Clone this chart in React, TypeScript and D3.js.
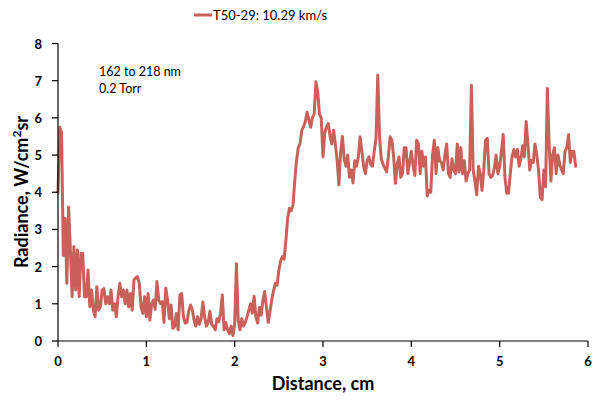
import React from "react";
import * as d3 from "d3";

// Radiance profile sampled every 0.02 cm, starting at 0 cm
const STEP_CM = 0.02;
const radiance: number[] = [
  4.0, 5.75, 5.6, 2.3, 3.3, 1.55, 3.6, 2.45, 1.19, 2.54,
  1.37, 2.45, 1.19, 2.36, 2.36, 1.19, 1.19, 1.91, 0.92, 1.37,
  0.83, 0.65, 1.46, 0.83, 0.92, 1.37, 1.41, 1.0, 1.19, 1.0,
  1.37, 0.83, 1.0, 0.65, 1.2, 1.55, 1.19, 1.37, 1.0, 1.37,
  0.92, 1.28, 0.83, 1.64, 1.7, 1.73, 1.55, 0.92, 0.74, 1.19,
  0.65, 1.28, 0.56, 1.0, 1.1, 0.85, 1.6, 1.1, 1.01, 1.06,
  0.5, 1.42, 1.1, 0.6, 0.97, 0.34, 0.39, 0.74, 0.3, 1.24,
  1.28, 0.65, 0.48, 0.5, 0.8, 0.97, 0.85, 0.56, 0.4, 0.65,
  0.45, 0.6, 1.05, 0.65, 0.4, 0.5, 0.8, 0.45, 0.39, 0.3,
  0.6, 0.52, 0.74, 1.24, 0.3, 0.5, 0.3, 0.2, 0.4, 0.15,
  0.45, 2.08, 0.55, 0.3, 0.6, 0.4, 0.5, 0.65, 0.83, 1.0,
  0.75, 1.2, 0.65, 0.48, 0.9, 0.7, 1.1, 1.33, 0.9, 0.5,
  0.8, 1.1, 1.35, 1.55, 1.5, 1.9, 2.15, 2.27, 2.2, 2.7,
  3.3, 3.57, 3.5, 3.65, 4.3, 4.85, 5.2, 5.3, 5.67, 5.76,
  5.9, 6.15, 5.95, 5.75, 6.0, 6.1, 6.97, 6.7, 6.1, 6.0,
  4.95, 5.6, 5.76, 5.85, 5.5, 5.3, 5.67, 5.3, 4.85, 4.2,
  5.1, 5.5, 4.9, 4.7, 5.0, 4.4, 4.6, 4.25, 4.85, 4.7,
  4.95, 5.49, 5.1, 4.7, 4.5, 4.85, 4.95, 4.75, 4.7, 5.1,
  5.45, 7.15, 5.5, 4.9, 4.75, 4.65, 4.55, 4.95, 5.49, 5.4,
  4.95, 4.24, 4.75, 4.95, 4.4, 4.5, 5.2, 5.2, 4.5, 4.8,
  5.1, 4.7, 4.45, 5.4, 5.3, 4.5, 5.1, 4.7, 4.95, 3.9,
  4.05, 4.0, 5.0, 5.4, 4.5, 5.2, 4.85, 4.8, 4.6, 5.0,
  5.3, 4.5, 4.4, 4.9, 4.6, 4.5, 5.3, 4.55, 5.2, 4.5,
  4.85, 4.3, 4.5, 4.6, 6.88, 4.6, 4.3, 3.93, 4.7, 4.5,
  4.05, 4.6, 5.4, 5.45, 4.5, 4.4, 4.45, 4.65, 5.0, 4.5,
  4.7, 5.1, 5.55, 4.4, 3.97, 3.97, 4.5, 4.95, 5.15, 4.95,
  5.15, 4.7, 4.9, 5.25, 4.95, 5.9, 5.3, 4.6, 4.85, 4.8,
  5.3, 5.0, 4.6, 3.86, 3.8, 4.6, 4.15, 6.79, 5.3, 4.3,
  5.0, 5.2, 4.5, 5.0, 4.75, 4.6, 4.5, 5.1, 5.2, 5.55,
  4.8, 5.1, 5.1, 4.7,
];

const xTicks = [0, 1, 2, 3, 4, 5, 6];
const yTicks = [0, 1, 2, 3, 4, 5, 6, 7, 8];
const seriesName = "T50-29: 10.29 km/s";
const noteLines = ["162 to 218 nm", "0.2 Torr"];

const W = 605;
const H = 402;
const COLOR = "#C9605A";
const FONT = "Lato, 'Open Sans', sans-serif";

export default function App() {
  const x = d3.scaleLinear().domain([0, 6]).range([58, 588]);
  const y = d3.scaleLinear().domain([0, 8]).range([341, 43.5]);

  const pts: [number, number][] = radiance.map((v, i) => [i * STEP_CM, v]);
  const line = d3
    .line<[number, number]>()
    .x((d) => x(d[0]))
    .y((d) => y(d[1]));

  return (
    <svg
      width={W}
      height={H}
      style={{ position: "absolute", left: 0, top: 0, background: "#fff" }}
      fontFamily={FONT}
    >
      {/* legend */}
      <line x1={194} x2={212} y1={15} y2={15} stroke={COLOR} strokeWidth={3} />
      <text x={213} y={20} fontSize={13} fill="#000">
        {seriesName}
      </text>

      {/* note */}
      {noteLines.map((t, i) => (
        <text key={t} x={99} y={76 + i * 17} fontSize={12.5} fill="#000">
          {t}
        </text>
      ))}

      {/* data line */}
      <path
        d={line(pts) || ""}
        fill="none"
        stroke={COLOR}
        strokeWidth={3}
        strokeLinejoin="round"
        strokeLinecap="round"
      />

      {/* y axis */}
      <line x1={x(0)} x2={x(0)} y1={y(8)} y2={y(0)} stroke="#000" strokeWidth={1.2} />
      {yTicks.map((t) => (
        <g key={"y" + t}>
          <line x1={x(0) - 6} x2={x(0)} y1={y(t)} y2={y(t)} stroke="#000" strokeWidth={1.2} />
          <text
            x={42}
            y={y(t)}
            textAnchor="end"
            dominantBaseline="central"
            fontSize={13}
            fontWeight="bold"
          >
            {t}
          </text>
        </g>
      ))}

      {/* x axis */}
      <line x1={x(0)} x2={x(6)} y1={y(0)} y2={y(0)} stroke="#000" strokeWidth={1.2} />
      {xTicks.map((t) => (
        <g key={"x" + t}>
          <line x1={x(t)} x2={x(t)} y1={y(0)} y2={y(0) + 6} stroke="#000" strokeWidth={1.2} />
          <text x={x(t)} y={366} textAnchor="middle" fontSize={13} fontWeight="bold">
            {t}
          </text>
        </g>
      ))}

      {/* axis titles */}
      <text x={323} y={390} textAnchor="middle" fontSize={18} fontWeight="bold">
        Distance, cm
      </text>
      <text
        transform={`translate(28, 192) rotate(-90)`}
        textAnchor="middle"
        fontSize={18}
        fontWeight="bold"
      >
        Radiance, W/cm
        <tspan dy={-7} fontSize={12}>2</tspan>
        <tspan dy={7}>sr</tspan>
      </text>
    </svg>
  );
}
